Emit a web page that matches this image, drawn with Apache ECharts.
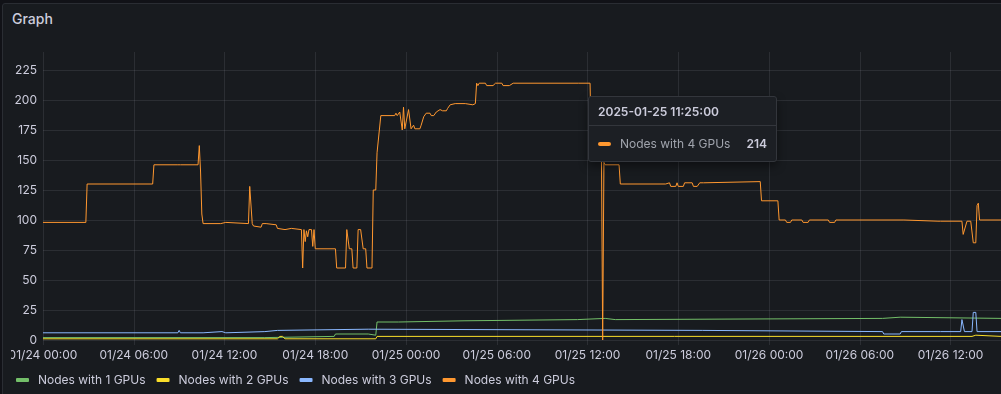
<!DOCTYPE html>
<html>
<head>
<meta charset="utf-8">
<script src="https://cdn.jsdelivr.net/npm/echarts@6/dist/echarts.min.js"></script>
<style>
html,body{margin:0;padding:0;background:#111217;width:1001px;height:394px;overflow:hidden;font-family:Inter,"Noto Sans",sans-serif;}
#panel{position:absolute;left:2px;top:3px;width:1020px;height:420px;background:#181b1f;border:1px solid #2a2d33;border-radius:3px;box-sizing:border-box;}
#title{position:absolute;left:12px;top:9px;font-size:14px;font-weight:500;color:#ccccdc;line-height:20px;}
#chart{position:absolute;left:11px;top:0;width:990px;height:394px;}
</style>
</head>
<body>
<div id="panel"></div>
<div id="title">Graph</div>
<div id="chart"></div>
<script>
// ---- data (times are 2025, local) ----
const xStart = '01-24 00:00';
const xEnd = '01-26 15:20';
const xTickHours = 6;
const seriesNames = ['Nodes with 1 GPUs', 'Nodes with 2 GPUs', 'Nodes with 3 GPUs', 'Nodes with 4 GPUs'];
const seriesColors = ['#73BF69', '#FADE2A', '#8AB8FF', '#FF9830'];
const yTicks = [0, 25, 50, 75, 100, 125, 150, 175, 200, 225];
const hoverTime = '01-25 11:25';

const gpu1 = [
  ['01-24 00:00',2],['01-24 14:40',2],['01-24 14:45',3],['01-24 19:15',3],['01-24 19:20',5],
  ['01-24 21:30',5],['01-24 21:35',4],['01-24 22:00',4],['01-24 22:05',15],['01-24 23:30',15],
  ['01-24 23:35',16],['01-25 03:50',16],['01-25 03:55',17],['01-25 11:20',17],['01-25 11:25',18],
  ['01-25 13:10',18],['01-25 13:15',17],['01-25 13:50',17],['01-25 13:55',18],['01-26 07:30',18],
  ['01-26 07:35',19],['01-26 08:40',19],['01-26 08:45',18],['01-26 15:20',18]
];
const gpu2 = [
  ['01-24 00:00',1],['01-24 15:30',1],['01-24 15:40',3],['01-24 15:50',3],['01-24 16:00',1],
  ['01-24 22:00',1],['01-24 22:05',3],['01-26 13:25',3],['01-26 13:30',4],['01-26 13:40',4],
  ['01-26 13:45',3],['01-26 15:20',3]
];
const gpu3 = [
  ['01-24 00:00',6],['01-24 08:55',6],['01-24 09:00',8],['01-24 09:05',6],['01-24 10:35',6],
  ['01-24 10:40',7],['01-24 11:50',7],['01-24 11:55',6],['01-24 12:05',6],['01-24 12:10',7],
  ['01-24 14:40',7],['01-24 14:45',8],['01-24 15:30',8],['01-24 15:35',9],['01-24 21:30',9],
  ['01-24 21:35',8],['01-25 19:35',8],['01-25 19:40',7],['01-26 07:30',7],['01-26 07:35',5],
  ['01-26 08:40',5],['01-26 08:45',7],['01-26 11:10',7],['01-26 11:15',8],['01-26 11:20',7],
  ['01-26 12:40',7],['01-26 12:45',17],['01-26 12:50',17],['01-26 12:55',7],['01-26 13:25',7],
  ['01-26 13:30',23],['01-26 13:40',23],['01-26 13:45',7],['01-26 15:20',7]
];
const gpu4 = [
  ['01-24 00:00',98],['01-24 02:50',98],['01-24 02:55',130],['01-24 07:15',130],['01-24 07:20',146],
  ['01-24 08:55',146],['01-24 09:00',145],['01-24 09:05',146],['01-24 10:15',146],['01-24 10:20',162],
  ['01-24 10:25',140],['01-24 10:30',105],['01-24 10:35',97],['01-24 11:45',97],['01-24 11:50',98],
  ['01-24 12:05',98],['01-24 12:10',97],['01-24 13:35',97],['01-24 13:40',128],['01-24 13:45',128],
  ['01-24 13:50',97],['01-24 13:55',95],['01-24 14:00',94],['01-24 14:25',94],['01-24 14:30',97],
  ['01-24 14:45',97],['01-24 14:50',96],['01-24 15:25',96],['01-24 15:30',93],['01-24 15:35',92],
  ['01-24 16:00',92],['01-24 16:05',93],['01-24 16:25',93],['01-24 16:30',92],['01-24 17:05',92],
  ['01-24 17:10',60],['01-24 17:15',92],['01-24 17:20',82],['01-24 17:25',91],['01-24 17:30',86],
  ['01-24 17:35',92],['01-24 17:45',92],['01-24 17:50',78],['01-24 17:55',92],['01-24 18:00',76],
  ['01-24 19:20',76],['01-24 19:25',60],['01-24 20:00',60],['01-24 20:05',92],['01-24 20:15',76],
  ['01-24 20:25',76],['01-24 20:30',60],['01-24 20:45',60],['01-24 20:50',92],['01-24 21:00',92],
  ['01-24 21:10',76],['01-24 21:20',76],['01-24 21:25',60],['01-24 21:45',60],['01-24 21:50',125],
  ['01-24 22:00',125],['01-24 22:05',156],['01-24 22:10',156],['01-24 22:20',187],['01-24 23:15',187],
  ['01-24 23:20',189],['01-24 23:25',187],['01-24 23:35',190],['01-24 23:40',191],['01-24 23:45',175],
  ['01-24 23:50',194],['01-24 23:55',176],['01-25 00:00',175],['01-25 00:10',192],['01-25 00:15',192],
  ['01-25 00:20',176],['01-25 00:30',179],['01-25 00:35',176],['01-25 00:55',176],['01-25 01:00',179],
  ['01-25 01:10',186],['01-25 01:20',189],['01-25 01:35',189],['01-25 01:40',187],['01-25 01:50',187],
  ['01-25 02:00',190],['01-25 02:15',192],['01-25 02:25',191],['01-25 02:40',191],['01-25 02:45',193],
  ['01-25 02:55',196],['01-25 03:15',197],['01-25 03:55',197],['01-25 04:00',196],['01-25 04:25',196],
  ['01-25 04:35',197],['01-25 04:40',214],['01-25 04:45',212],['01-25 04:50',214],['01-25 05:15',214],
  ['01-25 05:20',212],['01-25 05:45',212],['01-25 05:55',214],['01-25 06:20',214],['01-25 06:25',212],
  ['01-25 06:50',212],['01-25 07:05',214],['01-25 11:25',214],['01-25 12:10',214],['01-25 12:15',160],
  ['01-25 12:55',160],['01-25 13:00',0],['01-25 13:05',148],['01-25 13:10',146],['01-25 14:05',146],
  ['01-25 14:10',130],['01-25 17:10',130],['01-25 17:15',131],['01-25 17:25',131],['01-25 17:30',128],
  ['01-25 17:50',128],['01-25 17:55',131],['01-25 18:00',128],['01-25 18:20',128],['01-25 18:25',131],
  ['01-25 18:55',131],['01-25 19:00',128],['01-25 19:15',128],['01-25 19:25',131],['01-25 19:40',131],
  ['01-25 19:45',132],['01-25 23:25',132],['01-25 23:30',116],['01-26 00:35',116],['01-26 00:40',100],
  ['01-26 01:05',100],['01-26 01:10',98],['01-26 01:25',98],['01-26 01:30',100],['01-26 02:10',100],
  ['01-26 02:15',98],['01-26 02:35',98],['01-26 02:40',100],['01-26 03:55',100],['01-26 04:00',98],
  ['01-26 04:20',98],['01-26 04:25',100],['01-26 08:55',100],['01-26 09:00',99],['01-26 11:10',99],
  ['01-26 11:15',98],['01-26 11:20',99],['01-26 12:45',99],['01-26 12:50',88],['01-26 12:55',88],
  ['01-26 13:05',99],['01-26 13:20',99],['01-26 13:30',81],['01-26 13:40',81],['01-26 13:45',112],
  ['01-26 13:50',114],['01-26 13:55',100],['01-26 15:20',100]
];
const seriesData = [gpu1, gpu2, gpu3, gpu4];

// ---- helpers ----
const ms = s => { // 'MM-DD HH:mm' in 2025, local time -> epoch ms
  const m = s.match(/(\d+)-(\d+) (\d+):(\d+)/);
  return new Date(2025, +m[1] - 1, +m[2], +m[3], +m[4]).getTime();
};
const pad = n => (n < 10 ? '0' : '') + n;
const fmtAxis = v => { const d = new Date(v); return pad(d.getMonth()+1) + '/' + pad(d.getDate()) + ' ' + pad(d.getHours()) + ':' + pad(d.getMinutes()); };
const fmtFull = v => { const d = new Date(v); return d.getFullYear() + '-' + pad(d.getMonth()+1) + '-' + pad(d.getDate()) + ' ' + pad(d.getHours()) + ':' + pad(d.getMinutes()) + ':' + pad(d.getSeconds()); };
const gridColor = 'rgba(204,204,220,0.11)';
const textColor = '#ccccdc';

const hoverValue = gpu4.find(p => p[0] === hoverTime)[1];

const chart = echarts.init(document.getElementById('chart'), null, {renderer: 'canvas'});
const option = {
  animation: false,
  textStyle: {fontFamily: 'Inter'},
  grid: {left: 32, right: 0, top: 52, bottom: 54, containLabel: false, outerBoundsMode: 'none'},
  xAxis: {
    type: 'value', min: ms(xStart), max: ms(xEnd), interval: xTickHours * 3600 * 1000,
    axisLine: {show: false},
    axisTick: {show: true, length: 5, lineStyle: {color: gridColor}},
    splitLine: {show: true, showMaxLine: false, lineStyle: {color: gridColor, width: 1}},
    axisLabel: {color: textColor, fontSize: 12, margin: 9, formatter: fmtAxis, showMinLabel: true, showMaxLabel: false, hideOverlap: false}
  },
  yAxis: {
    type: 'value', min: yTicks[0], max: 240, interval: yTicks[1] - yTicks[0],
    axisLine: {show: false}, axisTick: {show: false},
    splitLine: {show: true, showMaxLine: false, lineStyle: {color: gridColor, width: 1}},
    axisLabel: {color: textColor, fontSize: 12, margin: 6, showMaxLabel: false,
      formatter: v => (yTicks.indexOf(v) >= 0 ? String(v) : '')}
  },
  legend: {
    left: 0, top: 369, icon: 'roundRect', itemWidth: 13, itemHeight: 4, itemGap: 11,
    selectedMode: false,
    textStyle: {color: textColor, fontSize: 12, padding: [0, 0, 0, 4]},
    data: seriesNames
  },
  tooltip: {
    trigger: 'axis', triggerOn: 'none', alwaysShowContent: true, transitionDuration: 0,
    position: [577, 96], padding: 0, backgroundColor: '#1c1f24', borderColor: '#33363c', borderWidth: 1,
    axisPointer: {type: 'none'},
    extraCssText: 'border-radius:3px;box-shadow:0 4px 10px rgba(0,0,0,0.45);',
    formatter: () =>
      '<div style="width:187px;font-family:Inter,sans-serif;">' +
      '<div style="padding:7px 9px 5px;font-size:12px;font-weight:600;color:#ccccdc;border-bottom:1px solid #33363c;line-height:16px;">' +
      fmtFull(ms(hoverTime)) + '</div>' +
      '<div style="padding:10px 9px 9px;display:flex;align-items:center;font-size:12px;line-height:16px;">' +
      '<span style="display:inline-block;width:13px;height:4px;border-radius:2px;background:' + seriesColors[3] + ';margin-right:9px;"></span>' +
      '<span style="color:#a0a4ad;flex:1;">' + seriesNames[3] + '</span>' +
      '<span style="color:#ccccdc;font-weight:600;">' + hoverValue + '</span></div></div>'
  },
  series: seriesData.map((d, i) => ({
    name: seriesNames[i], type: 'line', symbol: 'none', showSymbol: false,
    color: seriesColors[i],
    lineStyle: {width: 1, color: seriesColors[i]},
    emphasis: {disabled: true},
    data: d.map(p => [ms(p[0]), p[1]])
  }))
};
chart.setOption(option);
const pt = chart.convertToPixel({xAxisIndex: 0, yAxisIndex: 0}, [ms(hoverTime), hoverValue]);
chart.dispatchAction({type: 'showTip', x: pt[0], y: pt[1]});
</script>
</body>
</html>
